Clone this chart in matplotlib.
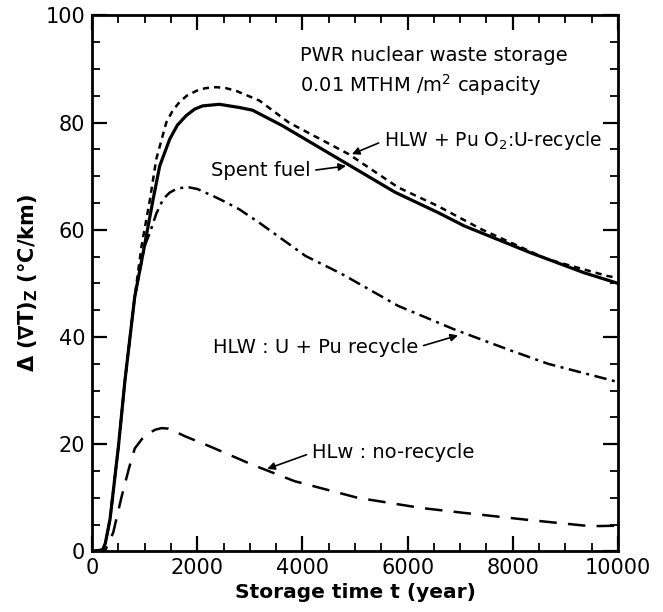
import matplotlib
matplotlib.use("Agg")
import matplotlib.pyplot as plt
from matplotlib.ticker import MultipleLocator

plt.rcParams['font.family'] = ['DejaVu Sans']
plt.rcParams['mathtext.fontset'] = 'dejavusans'

# Spent fuel (solid)
t_spent = [0, 200, 250, 340, 500, 625, 810, 985, 1160, 1285, 1475, 1620, 1790, 1950, 2100,
           2420, 2800, 3050, 3620, 4690, 5760, 6580, 7080, 8340, 9350, 10000]
v_spent = [0, 0.3, 1.5, 6, 19.6, 32, 47.5, 56.5, 65.7, 71.9, 76.9, 79.5, 81.3, 82.5, 83.1,
           83.4, 82.8, 82.3, 79.4, 73.2, 67.0, 63.2, 60.7, 55.7, 52.0, 50.0]

# HLW + PuO2 : U-recycle (short dashes)
t_puo2 = [0, 200, 250, 340, 500, 625, 810, 940, 1100, 1220, 1410, 1530, 1660, 1800, 1980,
          2150, 2360, 2550, 2740, 3180, 3740, 4880, 5820, 6580, 7400, 8660, 9790, 10000]
v_puo2 = [0, 0.3, 1.5, 6, 19.6, 32, 47.5, 57.0, 65.7, 73.2, 80.0, 82.2, 83.8, 85.0, 85.9,
          86.4, 86.6, 86.4, 85.9, 84.1, 80.0, 74.1, 67.9, 64.4, 60.1, 54.5, 51.4, 51.0]

# HLW : U + Pu recycle (dash-dot)
t_upu = [0, 200, 250, 340, 500, 625, 810, 1000, 1100, 1220, 1350, 1470, 1600, 1800, 2000,
         2300, 2550, 2800, 3180, 4060, 4740, 5820, 6890, 7900, 8670, 10000]
v_upu = [0, 0.3, 1.5, 6, 19.6, 32, 47.5, 57.0, 59.5, 63.0, 65.7, 66.9, 67.6, 68.0, 67.6,
         66.3, 65.1, 63.8, 61.3, 55.1, 51.8, 45.8, 41.4, 37.7, 35.0, 31.6]

# HLW : no-recycle (long dashes)
t_norec = [0, 250, 400, 560, 700, 810, 950, 1050, 1200, 1320, 1450, 1550, 1760, 2260, 3040,
           3850, 5050, 6260, 7060, 8270, 9480, 10000]
v_norec = [0, 0.2, 3.5, 10.2, 15.5, 19.2, 21.0, 21.9, 22.7, 23.0, 22.9, 22.5, 21.5, 19.5, 16.2,
           13.1, 10.0, 8.1, 7.2, 5.9, 4.7, 4.8]

fig = plt.figure(figsize=(6.63, 6.12), dpi=100)
ax = fig.add_axes([0.139, 0.099, 0.793, 0.876])

ax.plot(t_spent, v_spent, color='black', lw=2.3, ls='-')
ax.plot(t_puo2, v_puo2, color='black', lw=1.8, ls=(0, (2.5, 2.0)))
ax.plot(t_upu, v_upu, color='black', lw=1.8, ls=(0, (5, 2.2, 1.2, 2.2)))
ax.plot(t_norec, v_norec, color='black', lw=1.8, ls=(0, (7, 4.5)))

ax.set_xlim(0, 10000)
ax.set_ylim(0, 100)
ax.xaxis.set_major_locator(MultipleLocator(2000))
ax.xaxis.set_minor_locator(MultipleLocator(500))
ax.yaxis.set_major_locator(MultipleLocator(20))
ax.yaxis.set_minor_locator(MultipleLocator(5))
ax.tick_params(which='both', direction='in', top=True, right=True, labelsize=15)
ax.tick_params(which='major', length=11, width=1.6, pad=5)
ax.tick_params(which='minor', length=6, width=1.3)
for s in ax.spines.values():
    s.set_linewidth(2)

ax.set_xlabel('Storage time t (year)', fontsize=14.5, fontweight='bold', labelpad=3)
ax.set_ylabel(r'Δ (∇T)$_\mathbf{Z}$ (°C/km)', fontsize=15, fontweight='bold', labelpad=4)

ax.text(3950, 92.5, 'PWR nuclear waste storage', fontsize=14, ha='left', va='center')
ax.text(3950, 87.0, r'0.01 MTHM /m$^2$ capacity', fontsize=14, ha='left', va='center')

arrow = dict(arrowstyle='-|>', color='black', lw=1.2, mutation_scale=11, shrinkA=2, shrinkB=0)

a1 = dict(arrow); a1['relpos'] = (0, 0.5)
ax.annotate(r'HLW + Pu O$_2$:U-recycle', xy=(4940, 74.1), xytext=(5550, 76.6),
            fontsize=13.5, ha='left', va='center', arrowprops=a1)
a2 = dict(arrow); a2['relpos'] = (1, 0.5)
ax.annotate('Spent fuel', xy=(4830, 71.9), xytext=(4150, 71.0),
            fontsize=14, ha='right', va='center', arrowprops=a2)
a3 = dict(arrow); a3['relpos'] = (1, 0.5)
ax.annotate('HLW : U + Pu recycle', xy=(6960, 40.3), xytext=(6200, 38.1),
            fontsize=14, ha='right', va='center', arrowprops=a3)
a4 = dict(arrow); a4['relpos'] = (0, 0.5)
ax.annotate('HLw : no-recycle', xy=(3330, 15.4), xytext=(4180, 18.4),
            fontsize=14, ha='left', va='center', arrowprops=a4)

fig.savefig('out.png', dpi=100)
